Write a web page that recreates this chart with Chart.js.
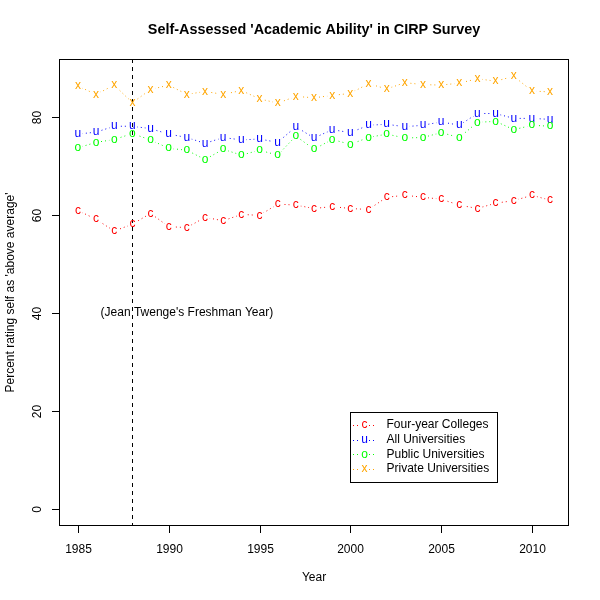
<!DOCTYPE html>
<html>
<head>
<meta charset="utf-8">
<script src="https://cdn.jsdelivr.net/npm/chart.js@4.4.1/dist/chart.umd.min.js"></script>
<style>
html,body{margin:0;padding:0;background:#fff;}
#wrap{width:600px;height:600px;}
</style>
</head>
<body>
<div id="wrap"><canvas id="c" width="600" height="600"></canvas></div>
<script>
const years = [1985,1986,1987,1988,1989,1990,1991,1992,1993,1994,1995,1996,1997,1998,1999,2000,2001,2002,2003,2004,2005,2006,2007,2008,2009,2010,2011];
const fourYear = [60.9,59.1,56.7,58.1,60.3,57.6,57.4,59.5,58.8,60.1,59.9,62.2,62.0,61.3,61.7,61.3,61.1,63.6,64.0,63.6,63.2,62.0,61.3,62.4,62.9,64.0,63.0];
const allUniv = [76.5,76.9,78.1,78.1,77.6,76.5,75.8,74.6,75.8,75.3,75.5,74.8,78.0,75.7,77.4,76.8,78.3,78.5,78.0,78.3,79.0,78.3,80.7,80.7,79.7,79.7,79.5];
const publicUniv = [73.7,74.8,75.4,76.6,75.3,73.6,73.2,71.3,73.4,72.2,73.2,72.2,76.1,73.4,75.4,74.4,75.8,76.5,75.7,75.8,76.8,75.8,78.9,79.1,77.4,78.3,78.1];
const privateUniv = [86.3,84.6,86.5,82.9,85.6,86.5,84.6,85.2,84.6,85.4,83.7,82.8,84.2,83.9,84.4,84.8,86.8,85.7,87.0,86.6,86.5,86.9,87.8,87.3,88.3,85.3,85.1];
const seriesNames = ["Four-year Colleges","All Universities","Public Universities","Private Universities"];
const seriesLetters = ["c","u","o","x"];
const seriesColors = ["#FF0000","#0000FF","#00FF00","#FFA500"];
const xTicks = [1985,1990,1995,2000,2005,2010];
const yTicks = [0,20,40,60,80];
const titleText = "Self-Assessed 'Academic Ability' in CIRP Survey";
const xTitle = "Year";
const yTitle = "Percent rating self as 'above average'";
const noteText = "(Jean Twenge's Freshman Year)";
const noteX = 1991, noteY = 40;
const markYear = 1988;

const FONT = "'Liberation Sans', Arial, Helvetica, sans-serif";
const allSeries = [fourYear, allUniv, publicUniv, privateUniv];

const datasets = allSeries.map((vals, i) => ({
  label: seriesNames[i],
  data: years.map((y, j) => ({x: y, y: vals[j]})),
  borderColor: seriesColors[i],
  backgroundColor: seriesColors[i],
  borderWidth: 1,
  borderDash: [1, 3],
  pointRadius: 0,
  pointHoverRadius: 0,
  tension: 0,
  fill: false
}));

const rPlot = {
  id: 'rPlot',
  afterDatasetsDraw(chart) {
    const ctx = chart.ctx;
    const ca = chart.chartArea;
    const xs = chart.scales.x, ys = chart.scales.y;
    ctx.save();
    ctx.beginPath();
    ctx.rect(ca.left, ca.top, ca.right - ca.left, ca.bottom - ca.top);
    ctx.clip();
    // gaps around points (type = "b")
    ctx.fillStyle = '#fff';
    chart.data.datasets.forEach((ds, i) => {
      chart.getDatasetMeta(i).data.forEach(pt => {
        ctx.beginPath();
        ctx.arc(pt.x, pt.y, 5, 0, Math.PI * 2);
        ctx.fill();
      });
    });
    // vertical dashed line
    const vx = Math.round(xs.getPixelForValue(markYear)) + 0.5;
    ctx.strokeStyle = '#000';
    ctx.lineWidth = 1;
    ctx.setLineDash([4, 4]);
    ctx.beginPath();
    ctx.moveTo(vx, ca.top);
    ctx.lineTo(vx, ca.bottom);
    ctx.stroke();
    ctx.setLineDash([]);
    // letters
    ctx.font = '12px ' + FONT;
    ctx.textAlign = 'center';
    ctx.textBaseline = 'alphabetic';
    chart.data.datasets.forEach((ds, i) => {
      ctx.fillStyle = seriesColors[i];
      chart.getDatasetMeta(i).data.forEach(pt => {
        ctx.fillText(seriesLetters[i], pt.x, pt.y + 3.2);
      });
    });
    // annotation
    ctx.fillStyle = '#000';
    ctx.textBaseline = 'middle';
    ctx.fillText(noteText, xs.getPixelForValue(noteX), ys.getPixelForValue(noteY));
    ctx.restore();

    ctx.save();
    ctx.strokeStyle = '#000';
    ctx.lineWidth = 1;
    // box
    ctx.strokeRect(ca.left + 0.5, ca.top + 0.5, ca.right - ca.left - 1, ca.bottom - ca.top - 1);
    // x ticks
    ctx.font = '12px ' + FONT;
    ctx.fillStyle = '#000';
    ctx.textAlign = 'center';
    ctx.textBaseline = 'middle';
    xs.ticks.forEach(t => {
      const px = Math.round(xs.getPixelForValue(t.value)) + 0.5;
      ctx.beginPath();
      ctx.moveTo(px, ca.bottom - 0.5);
      ctx.lineTo(px, ca.bottom + 7);
      ctx.stroke();
      ctx.fillText(String(t.value), px, 550);
    });
    // y ticks
    ys.ticks.forEach(t => {
      const py = Math.round(ys.getPixelForValue(t.value)) + 0.5;
      ctx.beginPath();
      ctx.moveTo(ca.left + 0.5, py);
      ctx.lineTo(ca.left - 7, py);
      ctx.stroke();
      ctx.save();
      ctx.translate(38, py);
      ctx.rotate(-Math.PI / 2);
      ctx.fillText(String(t.value), 0, 0);
      ctx.restore();
    });
    // titles
    ctx.font = 'bold 14.4px ' + FONT;
    ctx.fillText(titleText, (ca.left + ca.right) / 2, 30);
    ctx.font = '12px ' + FONT;
    ctx.fillText(xTitle, (ca.left + ca.right) / 2, 578);
    ctx.save();
    ctx.translate(11, (ca.top + ca.bottom) / 2);
    ctx.rotate(-Math.PI / 2);
    ctx.fillText(yTitle, 0, 0);
    ctx.restore();
    // legend
    ctx.strokeRect(350.5, 412.5, 147, 70);
    seriesNames.forEach((name, i) => {
      const ly = 425 + i * 14.67;
      ctx.strokeStyle = seriesColors[i];
      ctx.setLineDash([1, 3]);
      ctx.beginPath();
      ctx.moveTo(353, Math.round(ly) + 0.5);
      ctx.lineTo(360, Math.round(ly) + 0.5);
      ctx.moveTo(369, Math.round(ly) + 0.5);
      ctx.lineTo(377, Math.round(ly) + 0.5);
      ctx.stroke();
      ctx.setLineDash([]);
      ctx.fillStyle = seriesColors[i];
      ctx.textAlign = 'center';
      ctx.textBaseline = 'alphabetic';
      ctx.fillText(seriesLetters[i], 364.5, ly + 3.2);
      ctx.fillStyle = '#000';
      ctx.textAlign = 'left';
      ctx.textBaseline = 'middle';
      ctx.fillText(name, 386.5, ly);
    });
    ctx.restore();
  }
};

new Chart(document.getElementById('c'), {
  type: 'line',
  data: { datasets },
  options: {
    responsive: false,
    devicePixelRatio: 1,
    animation: false,
    events: [],
    layout: { padding: { left: 59, top: 59, right: 31, bottom: 74 } },
    plugins: { legend: { display: false }, title: { display: false }, tooltip: { enabled: false } },
    scales: {
      x: {
        type: 'linear', display: false, min: 1983.96, max: 2012.04,
        afterBuildTicks: s => { s.ticks = xTicks.map(v => ({value: v})); }
      },
      y: {
        type: 'linear', display: false, min: -3.53, max: 91.83,
        afterBuildTicks: s => { s.ticks = yTicks.map(v => ({value: v})); }
      }
    }
  },
  plugins: [rPlot]
});
</script>
</body>
</html>
